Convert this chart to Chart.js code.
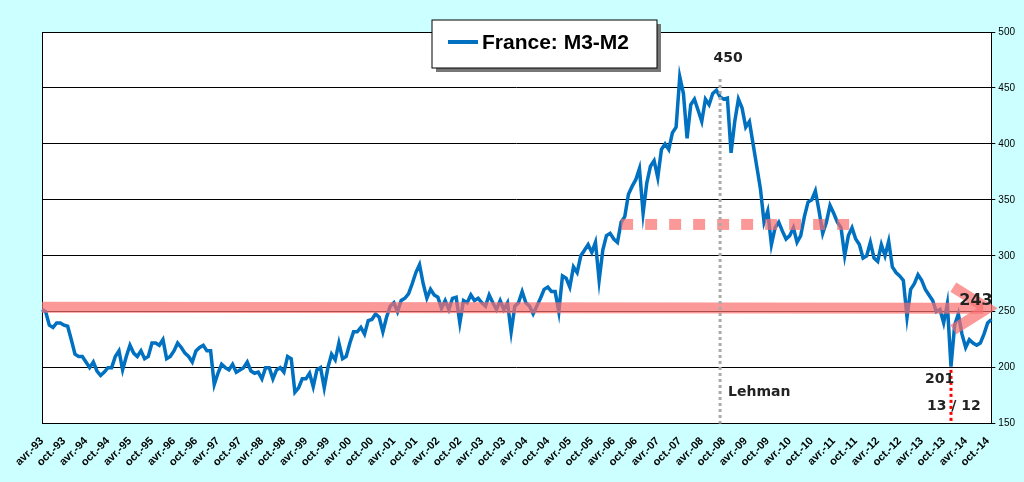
<!DOCTYPE html>
<html>
<head>
<meta charset="utf-8">
<script src="https://cdn.jsdelivr.net/npm/chart.js@4"></script>
<style>
  body { margin: 0; background: #ccffff; }
  #wrap { width: 1024px; height: 482px; }
</style>
</head>
<body>
<div id="wrap"><canvas id="m3m2"></canvas></div>
<script>
// M3-M2 France, mensuel, avr-93 -> nov-14
const valeurs = {
    1993: [252, 250, 238, 236, 240, 240, 238, 237, 225],
    1994: [212, 210, 210, 205, 200, 205, 197, 193, 196, 200, 200, 210],
    1995: [215, 198, 210, 220, 213, 210, 215, 208, 210, 222, 222, 220],
    1996: [225, 208, 210, 215, 222, 218, 213, 210, 205, 215, 218, 220],
    1997: [215, 215, 185, 195, 203, 200, 198, 203, 196, 198, 200, 205],
    1998: [197, 195, 196, 190, 200, 200, 190, 198, 200, 196, 210, 208],
    1999: [178, 182, 190, 190, 195, 183, 198, 200, 182, 200, 212, 207],
    2000: [222, 208, 210, 222, 232, 232, 236, 230, 242, 243, 248, 245],
    2001: [232, 245, 255, 258, 250, 260, 262, 266, 275, 285, 292, 275],
    2002: [262, 270, 265, 263, 253, 260, 252, 262, 263, 240, 260, 258],
    2003: [265, 260, 262, 258, 255, 265, 258, 252, 260, 252, 258, 232],
    2004: [255, 258, 268, 258, 255, 248, 255, 262, 270, 272, 268, 268],
    2005: [250, 282, 280, 272, 290, 285, 300, 305, 310, 303, 312, 278],
    2006: [305, 318, 320, 315, 312, 330, 335, 355, 362, 368, 378, 338],
    2007: [365, 380, 385, 370, 395, 400, 395, 410, 415, 460, 445, 405],
    2008: [435, 440, 430, 420, 440, 435, 445, 448, 442, 440, 441, 392],
    2009: [420, 440, 432, 415, 420, 400, 380, 360, 330, 340, 310, 325],
    2010: [330, 322, 315, 318, 325, 312, 318, 335, 348, 350, 358, 340],
    2011: [320, 330, 345, 338, 330, 325, 300, 318, 325, 315, 310, 298],
    2012: [300, 312, 298, 295, 310, 300, 313, 290, 285, 282, 278, 245],
    2013: [270, 275, 283, 278, 270, 265, 260, 250, 252, 240, 257, 201],
    2014: [238, 248, 230, 218, 225, 222, 220, 222, 230, 240, 243]
};

const mois = ['janv', 'févr', 'mars', 'avr', 'mai', 'juin', 'juil', 'août', 'sept', 'oct', 'nov', 'déc'];
const labels = [];
const data = [];
Object.keys(valeurs).forEach(annee => {
    const debut = annee == 1993 ? 3 : 0;
    valeurs[annee].forEach((v, i) => {
        labels.push(mois[debut + i] + '.-' + String(annee).slice(2));
        data.push(v);
    });
});
const idx = lbl => labels.indexOf(lbl);

// annotations dessinées avec les échelles du graphique
const annotations = {
    id: 'annotations',
    afterDatasetsDraw(chart) {
        const { ctx, scales: { x, y }, chartArea } = chart;
        ctx.save();
        // bande horizontale rouge + flèche
        ctx.strokeStyle = 'rgba(250,110,110,0.7)';
        ctx.lineWidth = 11;
        ctx.beginPath();
        ctx.moveTo(chartArea.left, y.getPixelForValue(254));
        ctx.lineTo(chartArea.right - 8, y.getPixelForValue(253));
        ctx.stroke();
        ctx.beginPath();
        ctx.moveTo(chartArea.right - 38, y.getPixelForValue(272));
        ctx.lineTo(chartArea.right - 4, y.getPixelForValue(253));
        ctx.lineTo(chartArea.right - 38, y.getPixelForValue(234));
        ctx.stroke();
        // pointillé rouge à 328
        ctx.setLineDash([12, 12]);
        ctx.beginPath();
        ctx.moveTo(x.getPixelForValue(idx('juin.-06')), y.getPixelForValue(328));
        ctx.lineTo(x.getPixelForValue(idx('oct.-11')), y.getPixelForValue(328));
        ctx.stroke();
        // Lehman
        ctx.strokeStyle = '#aaaaaa';
        ctx.lineWidth = 3;
        ctx.setLineDash([3, 3]);
        const xl = x.getPixelForValue(idx('sept.-08'));
        ctx.beginPath();
        ctx.moveTo(xl, y.getPixelForValue(458));
        ctx.lineTo(xl, chartArea.bottom);
        ctx.stroke();
        // 13 / 12
        ctx.strokeStyle = 'red';
        ctx.lineWidth = 3;
        const xm = x.getPixelForValue(idx('déc.-13'));
        ctx.beginPath();
        ctx.moveTo(xm, y.getPixelForValue(198));
        ctx.lineTo(xm, chartArea.bottom);
        ctx.stroke();
        ctx.setLineDash([]);
        ctx.fillStyle = '#222';
        ctx.font = 'bold 14px "DejaVu Sans"';
        ctx.textAlign = 'center';
        ctx.fillText('450', xl + 8, y.getPixelForValue(473));
        ctx.textAlign = 'left';
        ctx.fillText('Lehman', xl + 8, y.getPixelForValue(175));
        ctx.fillText('201', xm - 26, y.getPixelForValue(186));
        ctx.fillText('13 / 12', xm - 24, y.getPixelForValue(162));
        ctx.font = 'bold 16px "DejaVu Sans"';
        ctx.fillText('243', chartArea.right - 32, y.getPixelForValue(256));
        // légende encadrée
        const bx = 432, by = 20, bw = 225, bh = 48;
        ctx.fillStyle = '#777';
        ctx.fillRect(bx + 4, by + 4, bw, bh);
        ctx.fillStyle = '#fff';
        ctx.fillRect(bx, by, bw, bh);
        ctx.strokeStyle = '#000';
        ctx.lineWidth = 1;
        ctx.strokeRect(bx, by, bw, bh);
        ctx.strokeStyle = '#0070c0';
        ctx.lineWidth = 4;
        ctx.beginPath();
        ctx.moveTo(bx + 16, by + 22);
        ctx.lineTo(bx + 46, by + 22);
        ctx.stroke();
        ctx.fillStyle = '#000';
        ctx.font = 'bold 21px "Liberation Sans"';
        ctx.textBaseline = 'middle';
        ctx.fillText('France: M3-M2', bx + 50, by + 23);
        ctx.restore();
    }
};

const fondBlanc = {
    id: 'fondBlanc',
    beforeDraw(chart) {
        const { ctx, chartArea } = chart;
        ctx.save();
        ctx.fillStyle = '#fff';
        ctx.fillRect(chartArea.left, chartArea.top, chartArea.right - chartArea.left, chartArea.bottom - chartArea.top);
        ctx.restore();
    }
};

new Chart(document.getElementById('m3m2'), {
    type: 'line',
    data: {
        labels: labels,
        datasets: [{
            label: 'France: M3-M2',
            data: data,
            borderColor: '#0070c0',
            borderWidth: 3.5,
            pointRadius: 0,
            tension: 0,
            yAxisID: 'y'
        }]
    },
    options: {
        responsive: true,
        maintainAspectRatio: false,
        animation: false,
        layout: { padding: { left: 28, right: 6, top: 32, bottom: 10 } },
        plugins: { legend: { display: false }, tooltip: { enabled: false } },
        scales: {
            x: {
                offset: false,
                grid: { display: false },
                border: { color: '#000' },
                ticks: {
                    autoSkip: false,
                    minRotation: 45,
                    maxRotation: 45,
                    color: '#000',
                    font: { family: 'Liberation Sans', size: 11, weight: 'bold' },
                    callback: function(v) {
                        const l = labels[v];
                        return (l.startsWith('avr') || l.startsWith('oct')) ? l : null;
                    }
                }
            },
            y: {
                position: 'right',
                min: 150, max: 500,
                grid: { color: '#000', drawTicks: true, tickLength: 4 },
                border: { color: '#000' },
                ticks: { stepSize: 50, color: '#000', font: { family: 'Liberation Sans', size: 10 } }
            },
            y2: {
                position: 'left',
                min: 150, max: 500,
                grid: { display: false },
                border: { color: '#000' },
                ticks: { stepSize: 50, callback: () => '' }
            }
        }
    },
    plugins: [fondBlanc, annotations]
});
</script>
</body>
</html>
